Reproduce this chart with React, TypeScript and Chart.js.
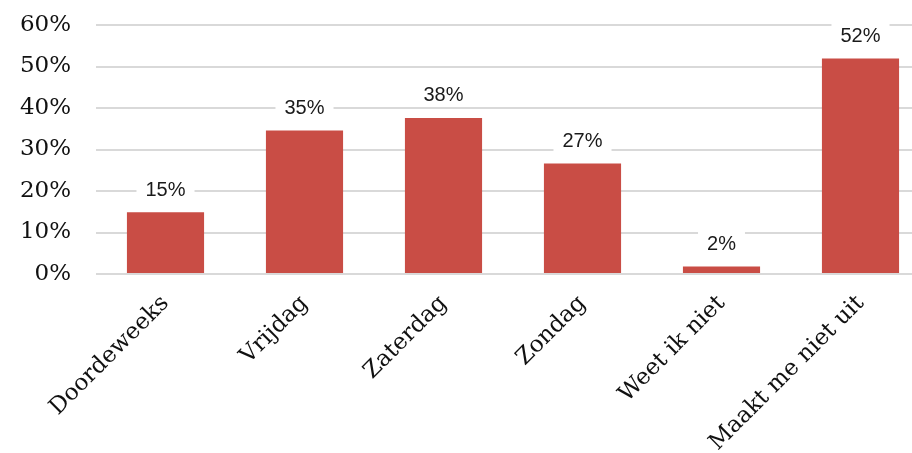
import React, { useEffect, useRef } from "react";
import { Chart, registerables } from "chart.js";

Chart.register(...registerables);

const categories = ["Doordeweeks", "Vrijdag", "Zaterdag", "Zondag", "Weet ik niet", "Maakt me niet uit"];
const values = [14.9, 34.6, 37.6, 26.6, 1.8, 51.9];
const yTicks = [0, 10, 20, 30, 40, 50, 60];

const BAR_COLOR = "#c94d45";

const valueLabelPlugin = {
  id: "valueLabels",
  afterDatasetsDraw(chart: any) {
    const ctx = chart.ctx;
    const meta = chart.getDatasetMeta(0);
    ctx.save();
    ctx.font = "20px 'Liberation Sans', Arial, sans-serif";
    ctx.textAlign = "center";
    ctx.textBaseline = "middle";
    meta.data.forEach((bar: any, i: number) => {
      const text = Math.round(values[i]) + "%";
      const w = ctx.measureText(text).width + 18;
      const h = 24;
      const cy = bar.y - 23;
      ctx.fillStyle = "#ffffff";
      ctx.fillRect(bar.x - w / 2, cy - h / 2, w, h);
      ctx.fillStyle = "#1a1a1a";
      ctx.fillText(text, bar.x, cy + 1);
    });
    ctx.restore();
  },
};

export default function App() {
  const ref = useRef<HTMLCanvasElement | null>(null);

  useEffect(() => {
    if (!ref.current) return;
    const chart = new Chart(ref.current, {
      type: "bar",
      data: {
        labels: categories,
        datasets: [
          {
            data: values,
            backgroundColor: BAR_COLOR,
            borderWidth: 0,
            barPercentage: 0.555,
            categoryPercentage: 1,
          },
        ],
      },
      plugins: [valueLabelPlugin],
      options: {
        responsive: false,
        animation: false,
        layout: { padding: { top: 25, right: 10, bottom: 0, left: 0 } },
        plugins: {
          legend: { display: false },
          tooltip: { enabled: false },
        },
        scales: {
          x: {
            grid: { display: false },
            border: { display: false },
            ticks: {
              color: "#111111",
              font: { family: "'DejaVu Serif', serif", size: 23 },
              minRotation: 45,
              maxRotation: 45,
              padding: 8,
              autoSkip: false,
            },
            afterFit(scale: any) {
              scale.height = 179;
            },
          },
          y: {
            min: 0,
            max: 60,
            afterBuildTicks(scale: any) {
              scale.ticks = yTicks.map((v) => ({ value: v }));
            },
            grid: { color: "#d9d9d9", lineWidth: 2, drawTicks: false },
            border: { display: false },
            ticks: {
              color: "#111111",
              font: { family: "'DejaVu Serif', serif", size: 23 },
              padding: 25,
              callback: (v: any) => v + "%",
            },
            afterFit(scale: any) {
              scale.width = 96;
              scale.paddingTop = 0;
              scale.paddingBottom = 0;
            },
          },
        },
      },
    });
    return () => chart.destroy();
  }, []);

  return (
    <div
      style={{
        position: "absolute",
        left: 0,
        top: 0,
        width: 912,
        height: 453,
        overflow: "hidden",
        background: "#ffffff",
      }}
    >
      <canvas ref={ref} width={940} height={453} style={{ display: "block" }} />
    </div>
  );
}
